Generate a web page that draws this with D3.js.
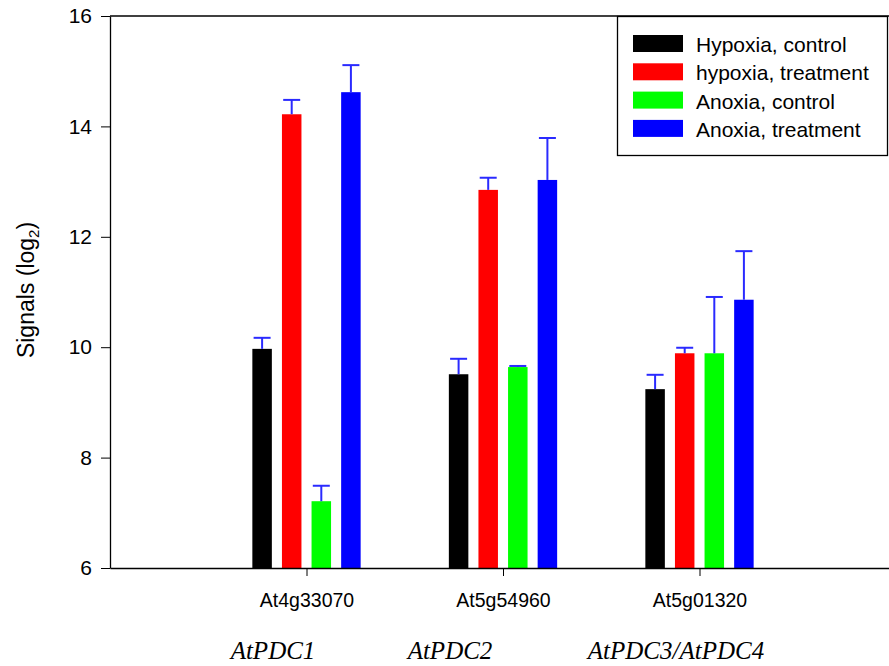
<!DOCTYPE html>
<html><head><meta charset="utf-8">
<script src="https://cdn.jsdelivr.net/npm/d3@7"></script>
<style>body{margin:0;background:#fff}svg{display:block}</style>
</head><body>
<script>
const categories = ["At4g33070", "At5g54960", "At5g01320"];
const geneNames = ["AtPDC1", "AtPDC2", "AtPDC3/AtPDC4"];
const seriesNames = ["Hypoxia, control", "hypoxia, treatment", "Anoxia, control", "Anoxia, treatment"];
const seriesColors = ["#000000", "#ff0000", "#00ff00", "#0000ff"];
const hypoxiaControl = [9.97, 9.51, 9.24];
const hypoxiaTreatment = [14.22, 12.85, 9.89];
const anoxiaControl = [7.21, 9.64, 9.89];
const anoxiaTreatment = [14.62, 13.03, 10.86];
const errHypoxiaControl = [0.20, 0.28, 0.26];
const errHypoxiaTreatment = [0.26, 0.22, 0.10];
const errAnoxiaControl = [0.28, 0.02, 1.02];
const errAnoxiaTreatment = [0.49, 0.76, 0.88];
const yTicks = [6, 8, 10, 12, 14, 16];

const values = [hypoxiaControl, hypoxiaTreatment, anoxiaControl, anoxiaTreatment];
const errors = [errHypoxiaControl, errHypoxiaTreatment, errAnoxiaControl, errAnoxiaTreatment];

const W = 889, H = 666;
const svg = d3.select("body").append("svg").attr("width", W).attr("height", H);
const mLeft = 110, mTop = 16, mBottom = 568;
const x = d3.scaleLinear().domain([0, 4]).range([mLeft, mLeft + 4 * 196.5]);
const y = d3.scaleLinear().domain([6, 16]).range([mBottom, mTop]);
const step = 29.6, bw = 19.5;
const sans = "Liberation Sans, Arial, sans-serif";

// bars
values.forEach((vals, s) => {
  const g = svg.append("g");
  vals.forEach((v, i) => {
    const cx = x(i + 1) + (s - 1.5) * step;
    g.append("rect").attr("x", cx - bw / 2).attr("y", y(v)).attr("width", bw)
      .attr("height", y(6) - y(v)).attr("fill", seriesColors[s]);
  });
});
// error bars
values.forEach((vals, s) => {
  vals.forEach((v, i) => {
    const cx = x(i + 1) + (s - 1.5) * step;
    const e = v + errors[s][i];
    svg.append("line").attr("x1", cx).attr("x2", cx).attr("y1", y(v)).attr("y2", y(e))
      .attr("stroke", "#2a2aff").attr("stroke-width", 2);
    svg.append("line").attr("x1", cx - 8.5).attr("x2", cx + 8.5).attr("y1", y(e)).attr("y2", y(e))
      .attr("stroke", "#2a2aff").attr("stroke-width", 2);
  });
});

// axes
const yAxis = d3.axisLeft(y).tickValues(yTicks).tickSize(9).tickSizeOuter(0).tickPadding(9).tickFormat(d3.format("d"));
const ya = svg.append("g").attr("transform", `translate(${mLeft},0)`).call(yAxis);
ya.select(".domain").attr("stroke", "#000").attr("stroke-width", 1.3);
ya.selectAll("text").attr("font-family", sans).attr("font-size", 21).attr("fill", "#000");

const xAxis = d3.axisBottom(x).tickValues([1, 2, 3]).tickSize(8).tickSizeOuter(0).tickPadding(17)
  .tickFormat(d => categories[d - 1]);
const xa = svg.append("g").attr("transform", `translate(0,${mBottom})`).call(xAxis);
xa.select(".domain").attr("stroke", "#000").attr("stroke-width", 1.3);
xa.selectAll("text").attr("font-family", sans).attr("font-size", 19.5).attr("fill", "#000");

// top frame line
svg.append("line").attr("x1", mLeft).attr("x2", x(4)).attr("y1", y(16)).attr("y2", y(16))
  .attr("stroke", "#000").attr("stroke-width", 1.3);

// y label
svg.append("text").attr("transform", `translate(34,290) rotate(-90)`)
  .attr("text-anchor", "middle").attr("font-family", sans)
  .attr("font-size", 23).attr("fill", "#000")
  .call(t => {
    t.append("tspan").text("Signals (log");
    t.append("tspan").attr("font-size", 15).attr("dy", 5).text("2");
    t.append("tspan").attr("dy", -5).text(")");
  });

// gene names
const genePos = [273, 450, 676];
geneNames.forEach((n, i) => {
  svg.append("text").attr("x", genePos[i]).attr("y", 659).attr("text-anchor", "middle")
    .attr("font-family", "Liberation Serif, Times New Roman, serif").attr("font-style", "italic")
    .attr("font-size", 25).attr("fill", "#000").text(n);
});

// legend
const lg = svg.append("g");
lg.append("rect").attr("x", 617.5).attr("y", 16.5).attr("width", 270).attr("height", 139)
  .attr("fill", "#fff").attr("stroke", "#000").attr("stroke-width", 1.3);
seriesNames.forEach((n, i) => {
  const cy = 43.5 + i * 28.3;
  lg.append("rect").attr("x", 633).attr("y", cy - 8.5).attr("width", 50).attr("height", 17).attr("fill", seriesColors[i]);
  lg.append("text").attr("x", 696).attr("y", cy + 8.5).attr("font-family", sans)
    .attr("font-size", 21).attr("fill", "#000").text(n);
});
</script>
</body></html>
